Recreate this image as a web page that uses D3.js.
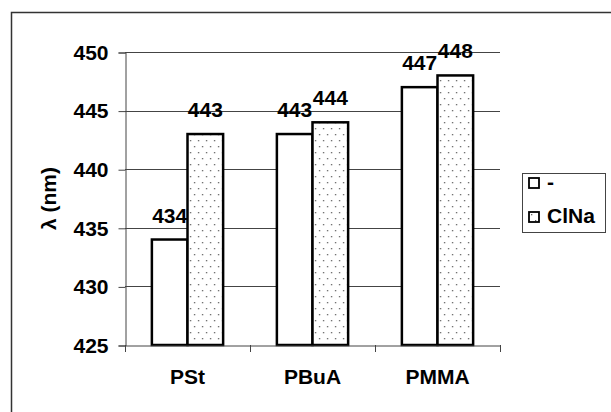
<!DOCTYPE html>
<html>
<head>
<meta charset="utf-8">
<script src="https://cdn.jsdelivr.net/npm/d3@7"></script>
<style>
  html, body { margin: 0; padding: 0; background: #fff; }
  svg { display: block; }
  text { font-family: "Liberation Sans", Arial, sans-serif; font-weight: bold; fill: #000; }
</style>
</head>
<body>
<svg id="chart" width="611" height="412"></svg>
<script>
const categories = ["PSt", "PBuA", "PMMA"];
const seriesNames = ["-", "ClNa"];
const seriesPlain = [434, 443, 447];
const seriesClNa = [443, 444, 448];
const yTicks = [425, 430, 435, 440, 445, 450];
const yTitle = "λ (nm)";

const data = categories.map((c, i) => ({ cat: c, vals: [seriesPlain[i], seriesClNa[i]] }));

const svg = d3.select("#chart");
const plot = { left: 125, right: 500, top: 52, bottom: 345 };
const FS = 21;

// outer frame (right/bottom edges fall outside the picture)
svg.append("rect")
  .attr("x", 11.5).attr("y", 12.5)
  .attr("width", 640).attr("height", 440)
  .attr("fill", "none").attr("stroke", "#333").attr("stroke-width", 1.5);

// pattern for ClNa
const defs = svg.append("defs");
const pat = defs.append("pattern")
  .attr("id", "dots").attr("patternUnits", "userSpaceOnUse")
  .attr("width", 8).attr("height", 12);
pat.append("rect").attr("width", 8).attr("height", 12).attr("fill", "#fff");
pat.append("rect").attr("x", 2).attr("y", 2).attr("width", 1.3).attr("height", 1.3).attr("fill", "#666");
pat.append("rect").attr("x", 6).attr("y", 8).attr("width", 1.3).attr("height", 1.3).attr("fill", "#666");

const y = d3.scaleLinear().domain([425, 450]).range([plot.bottom, plot.top]);
const x0 = d3.scaleBand().domain(categories).range([plot.left, plot.right])
  .paddingInner(0.43).paddingOuter(0.215);
const x1 = d3.scaleBand().domain([0, 1]).range([0, x0.bandwidth()]);
const xOuter = d3.scaleBand().domain(categories).range([plot.left, plot.right]);

// gridlines
svg.append("g")
  .selectAll("line").data(yTicks.filter(t => t !== 425)).join("line")
  .attr("x1", plot.left).attr("x2", plot.right)
  .attr("y1", d => Math.round(y(d)) + 0.5).attr("y2", d => Math.round(y(d)) + 0.5)
  .attr("stroke", "#444").attr("stroke-width", 1);

// y axis
const yAxis = svg.append("g")
  .attr("transform", `translate(${plot.left + 0.5},0.5)`)
  .call(d3.axisLeft(y).tickValues(yTicks).tickSize(7).tickPadding(10).tickFormat(d3.format("d")));
yAxis.select(".domain").attr("stroke", "#444");
yAxis.selectAll(".tick line").attr("stroke", "#444");
yAxis.selectAll("text").attr("font-size", FS).attr("font-family", "Liberation Sans, Arial, sans-serif")
  .attr("font-weight", "bold").attr("fill", "#000");

// bars
const groups = svg.append("g").selectAll("g").data(data).join("g")
  .attr("transform", d => `translate(${x0(d.cat)},0)`);
groups.selectAll("rect").data(d => d.vals.map((v, i) => ({ v, i }))).join("rect")
  .attr("x", d => x1(d.i))
  .attr("y", d => y(d.v))
  .attr("width", x1.bandwidth())
  .attr("height", d => y(425) - y(d.v))
  .attr("fill", d => d.i === 0 ? "#fff" : "url(#dots)")
  .attr("stroke", "#000").attr("stroke-width", 2.5);

// value labels
groups.selectAll("text.val").data(d => d.vals.map((v, i) => ({ v, i }))).join("text")
  .attr("class", "val")
  .attr("x", d => x1(d.i) + x1.bandwidth() / 2)
  .attr("y", d => y(d.v) - 17)
  .attr("text-anchor", "middle")
  .attr("font-size", FS)
  .text(d => d.v);

// x axis
const xAxis = svg.append("g")
  .attr("transform", `translate(0.5,${plot.bottom + 0.5})`)
  .call(d3.axisBottom(xOuter).tickSize(0).tickFormat(""));
xAxis.select(".domain").attr("stroke", "#444");
// category boundary ticks
svg.append("g").selectAll("line")
  .data(categories.map(c => xOuter(c)).concat([plot.right]))
  .join("line")
  .attr("x1", d => Math.round(d) + 0.5).attr("x2", d => Math.round(d) + 0.5)
  .attr("y1", plot.bottom).attr("y2", plot.bottom + 7)
  .attr("stroke", "#444");

svg.append("g").selectAll("text").data(categories).join("text")
  .attr("x", d => xOuter(d) + xOuter.bandwidth() / 2)
  .attr("y", 384)
  .attr("text-anchor", "middle")
  .attr("font-size", FS)
  .text(d => d);

// y title
svg.append("text")
  .attr("transform", `translate(56,${(plot.top + plot.bottom) / 2}) rotate(-90)`)
  .attr("text-anchor", "middle")
  .attr("font-size", FS)
  .text(yTitle);

// legend
const lg = svg.append("g").attr("transform", "translate(522.5,173.5)");
lg.append("rect").attr("width", 83).attr("height", 59)
  .attr("fill", "#fff").attr("stroke", "#444").attr("stroke-width", 1);
const items = lg.selectAll("g").data(seriesNames).join("g")
  .attr("transform", (d, i) => `translate(6.5,${4.5 + i * 34})`);
items.append("rect").attr("width", 10).attr("height", 10)
  .attr("fill", (d, i) => i === 0 ? "#fff" : "url(#dots)")
  .attr("stroke", "#000").attr("stroke-width", 1.8);
items.append("text").attr("x", 18).attr("y", 10.5)
  .attr("font-size", FS)
  .text(d => d);
</script>
</body>
</html>
